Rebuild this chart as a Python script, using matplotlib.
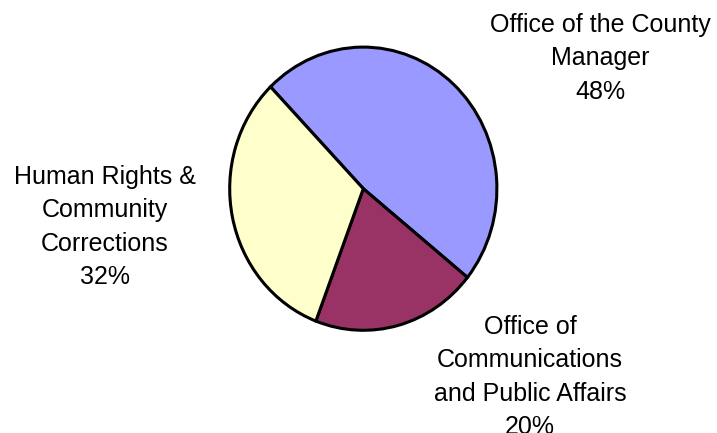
import matplotlib
matplotlib.use("Agg")
import matplotlib.pyplot as plt

# data
departments = ["Office of the County\nManager",
               "Office of\nCommunications\nand Public Affairs",
               "Human Rights &\nCommunity\nCorrections"]
shares = [48, 20, 32]
colors = ["#9999FF", "#993366", "#FFFFCC"]

W, H = 717, 433
fig = plt.figure(figsize=(W / 100, H / 100), dpi=100)
plt.rcParams['font.family'] = ['Liberation Sans', 'DejaVu Sans']

# pie is slightly taller than wide in the original, so use an axes box with auto aspect
cx, cy = 363.3, 188.7
rx, ry = 133.6, 141.6
ax = fig.add_axes([(cx - rx) / W, 1 - (cy + ry) / H, 2 * rx / W, 2 * ry / H])
wedges, _ = ax.pie(shares, colors=colors, startangle=134, counterclock=False,
                   radius=1, wedgeprops=dict(edgecolor="black", linewidth=2.2))
ax.set_xlim(-1, 1)
ax.set_ylim(-1, 1)
ax.set_aspect('auto')
ax.axis('off')

# label positions (pixels: center x, top of first line)
label_pos = [(600, 13), (530, 315), (105, 165)]
for name, pct, (x, y) in zip(departments, shares, label_pos):
    fig.text(x / W, 1 - y / H, f"{name}\n{pct}%", ha='center', va='top',
             fontsize=18, linespacing=1.49, color='black')

fig.savefig("out.png", dpi=100)
